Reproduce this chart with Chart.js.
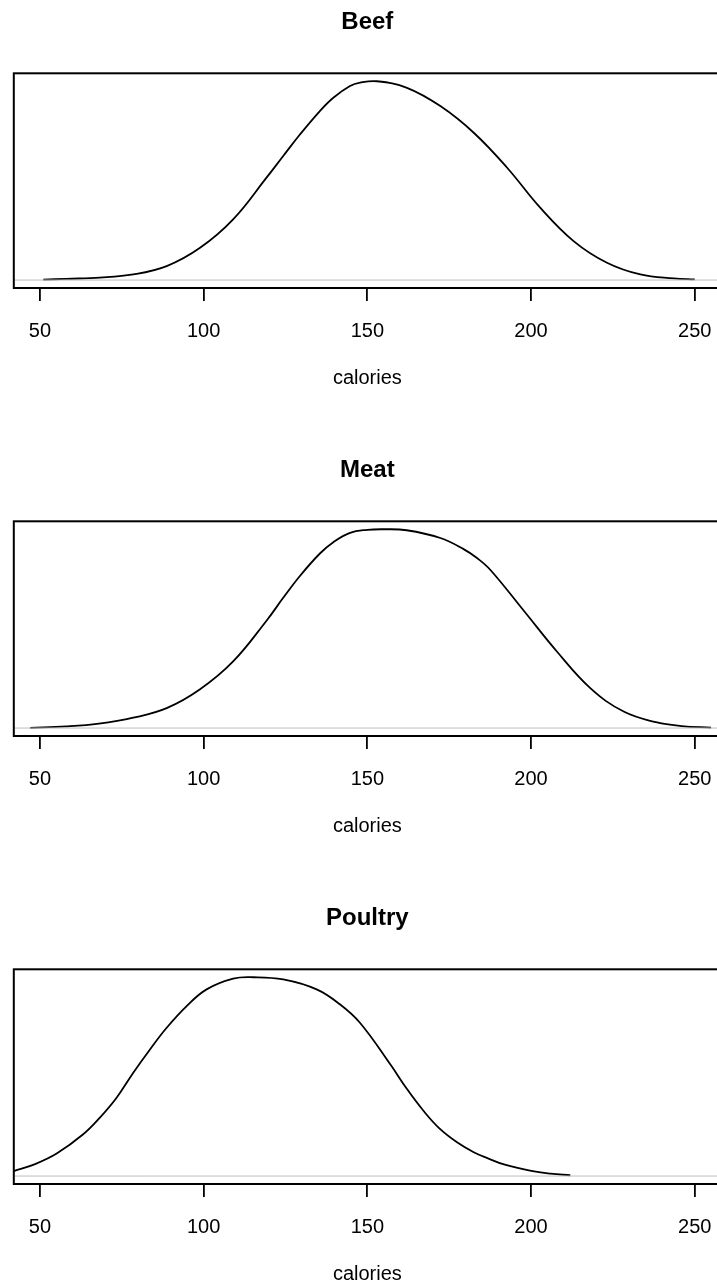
<!DOCTYPE html>
<html>
<head>
<meta charset="utf-8">
<title>Calories by hot dog type</title>
<script src="https://cdn.jsdelivr.net/npm/chart.js@4/dist/chart.umd.min.js"></script>
<style>
  html, body { margin: 0; padding: 0; background: #fff; overflow: hidden; width: 717px; height: 1288px; }
  .panel { position: absolute; left: 0; }
  .panel canvas { display: block; }
</style>
</head>
<body>
<div class="panel" style="top:0px"><canvas id="beef-chart" width="730" height="400"></canvas></div>
<div class="panel" style="top:448px"><canvas id="meat-chart" width="730" height="400"></canvas></div>
<div class="panel" style="top:896px"><canvas id="poultry-chart" width="730" height="400"></canvas></div>
<script>
// Kernel density estimates (scaled so each peak is 1)
const beefCalories = [51, 58, 68.3, 78.5, 88.7, 98.9, 109, 119.2, 124.3, 129.4, 135.5, 139.6, 144.7, 147.8, 152.9, 162.1, 172.3, 182.5, 192.7, 202.8, 213, 223.2, 233.4, 243.6, 250];
const beefDensity = [0.002, 0.006, 0.012, 0.028, 0.07, 0.162, 0.305, 0.515, 0.624, 0.732, 0.85, 0.917, 0.976, 0.993, 1.0, 0.967, 0.875, 0.741, 0.565, 0.364, 0.196, 0.087, 0.028, 0.008, 0.003];

const meatCalories = [47, 58, 68, 78.5, 88.7, 98.9, 109, 119.2, 124.3, 129.4, 135.5, 139.6, 144.7, 150, 155, 162, 172.3, 179.4, 183.5, 187.6, 197.8, 207.9, 218.1, 228.3, 238.5, 246, 255];
const meatDensity = [0.001, 0.008, 0.022, 0.052, 0.1, 0.195, 0.335, 0.54, 0.655, 0.765, 0.878, 0.935, 0.982, 0.997, 1.0, 0.995, 0.956, 0.9, 0.855, 0.795, 0.59, 0.385, 0.201, 0.083, 0.028, 0.01, 0.002];

const poultryCalories = [42, 48.5, 55.1, 63.2, 68.3, 73.4, 78.5, 83.6, 88.7, 94.8, 100.9, 109, 115.2, 124.3, 134.5, 141.6, 147.8, 157, 162, 167.2, 172, 177.4, 182.5, 187, 192, 199.7, 206, 212];
const poultryDensity = [0.025, 0.06, 0.113, 0.21, 0.294, 0.394, 0.52, 0.637, 0.746, 0.855, 0.939, 0.993, 1.0, 0.989, 0.939, 0.864, 0.77, 0.562, 0.44, 0.327, 0.24, 0.17, 0.12, 0.088, 0.057, 0.027, 0.012, 0.004];

const tickValues = [50, 100, 150, 200, 250];
const xLimits = [42, 258];
const yLimits = [-0.04, 1.04];

const FONT = '"Liberation Sans", Arial, Helvetica, sans-serif';

// Frame around the plot region (left, top, bottom visible)
const boxPlugin = {
  id: 'plotBox',
  afterDraw(chart) {
    const { ctx, chartArea: a } = chart;
    ctx.save();
    ctx.strokeStyle = '#000';
    ctx.lineWidth = 2;
    ctx.strokeRect(a.left, a.top, a.right - a.left, a.bottom - a.top);
    ctx.restore();
  }
};

function toPoints(xs, ys) {
  return xs.map((x, i) => ({ x, y: ys[i] }));
}

function drawDensity(canvasId, title, calories, density) {
  new Chart(document.getElementById(canvasId), {
    type: 'line',
    data: {
      datasets: [
        {
          // zero line, drawn over the curve
          data: [{ x: xLimits[0], y: 0 }, { x: xLimits[1], y: 0 }],
          borderColor: '#bebebe',
          borderWidth: 1,
          pointRadius: 0,
        },
        {
          data: toPoints(calories, density),
          borderColor: '#000',
          borderWidth: 1.8,
          pointRadius: 0,
          tension: 0.4,
          fill: false,
        },
      ],
    },
    options: {
      responsive: false,
      animation: false,
      layout: { padding: { left: 13.8, right: 9.1, top: 0, bottom: 0 } },
      plugins: {
        legend: { display: false },
        tooltip: { enabled: false },
        title: {
          display: true,
          text: title,
          color: '#000',
          font: { family: FONT, size: 24, weight: 'bold', lineHeight: 1.2 },
          padding: { top: 7.6, bottom: 36.9 },
        },
      },
      scales: {
        x: {
          type: 'linear',
          min: xLimits[0],
          max: xLimits[1],
          afterBuildTicks: (scale) => { scale.ticks = tickValues.map(v => ({ value: v })); },
          afterFit: (scale) => {
            scale.height = 112;
            scale.paddingLeft = 0;
            scale.paddingRight = 0;
          },
          grid: {
            drawOnChartArea: false,
            drawTicks: true,
            tickLength: 13,
            color: '#000',
            lineWidth: 1.8,
          },
          border: { display: true, color: '#000', width: 2 },
          ticks: {
            color: '#000',
            padding: 18,
            maxRotation: 0,
            autoSkip: false,
            font: { family: FONT, size: 20 },
          },
          title: {
            display: true,
            text: 'calories',
            color: '#000',
            font: { family: FONT, size: 20, lineHeight: 1.2 },
            padding: { top: 0, bottom: 9.7 },
          },
        },
        y: {
          display: false,
          min: yLimits[0],
          max: yLimits[1],
        },
      },
    },
    plugins: [boxPlugin],
  });
}

drawDensity('beef-chart', 'Beef', beefCalories, beefDensity);
drawDensity('meat-chart', 'Meat', meatCalories, meatDensity);
drawDensity('poultry-chart', 'Poultry', poultryCalories, poultryDensity);
</script>
</body>
</html>
